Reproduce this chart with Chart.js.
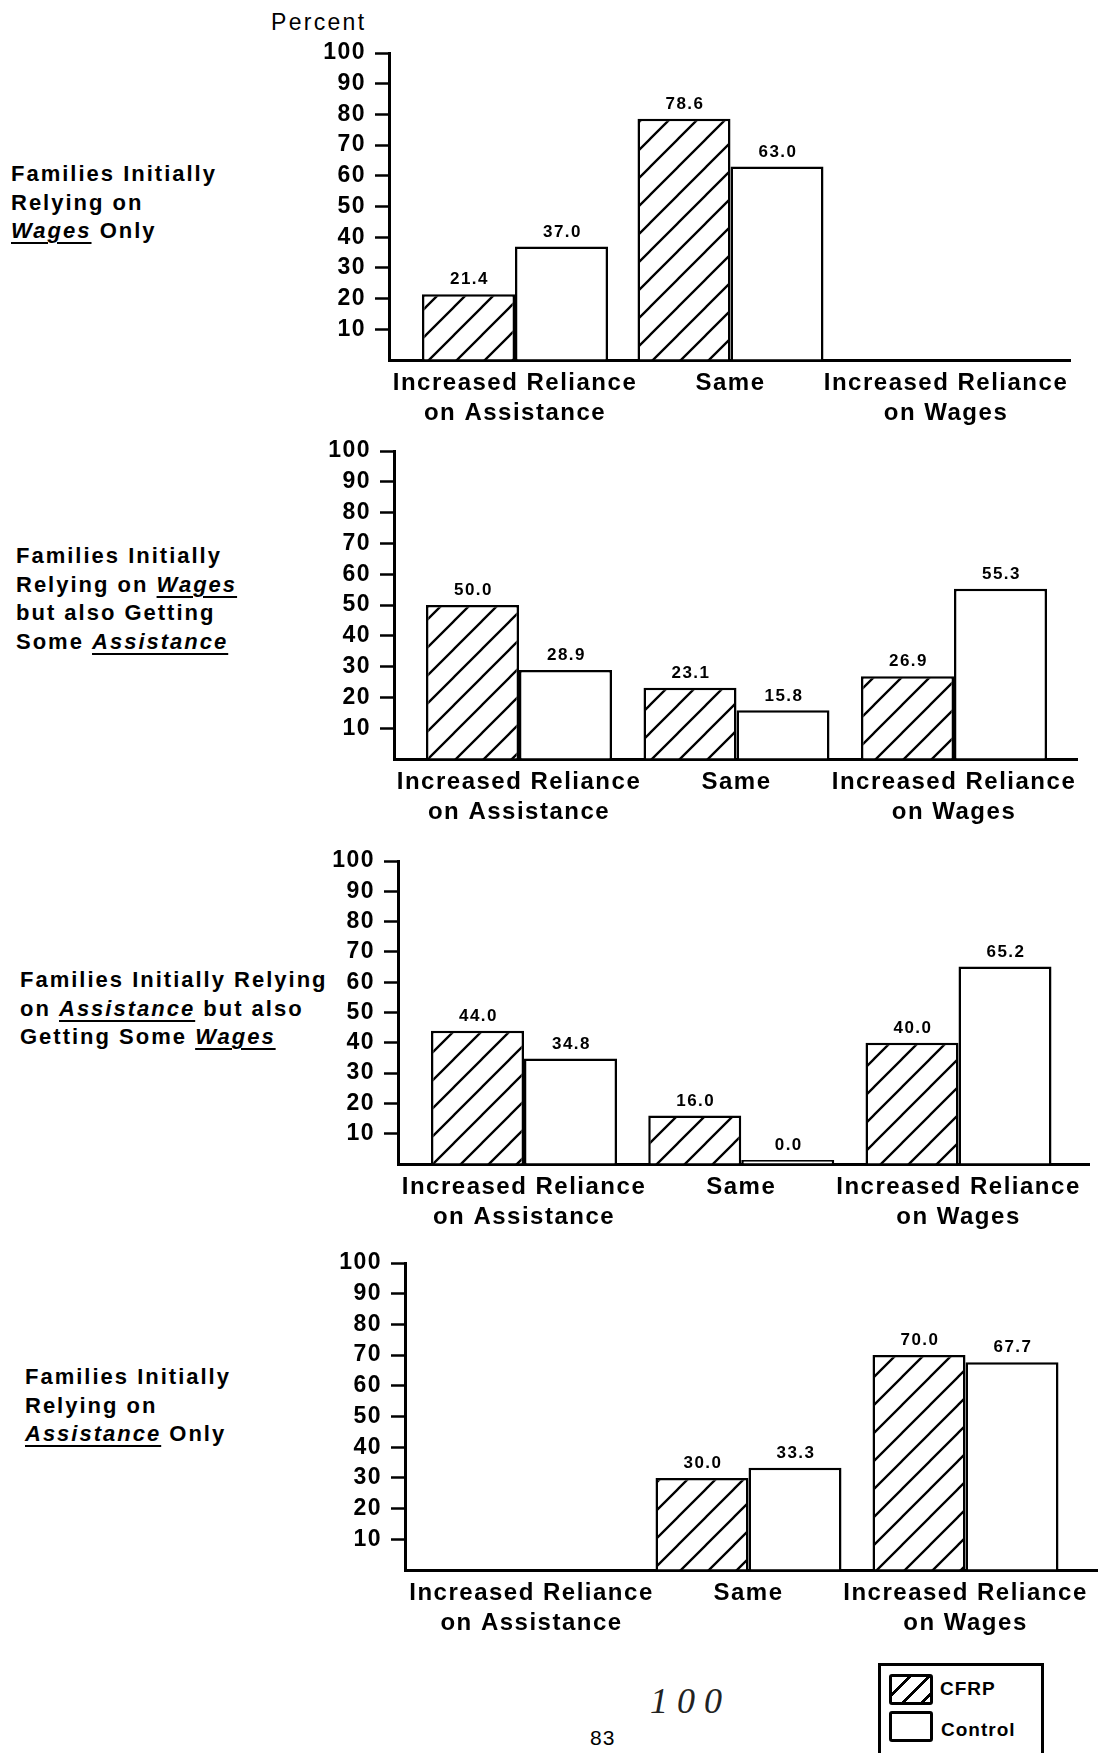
<!DOCTYPE html>
<html>
<head>
<meta charset="utf-8">
<script src="https://cdn.jsdelivr.net/npm/chart.js@4.4.1/dist/chart.umd.min.js"></script>
<style>
  body { margin: 0; width: 1102px; height: 1753px; position: relative; overflow: hidden; background: #fff;
         font-family: 'Liberation Sans', Arial, sans-serif; color: #000; }
  .side { position: absolute; font-size: 22px; font-weight: bold; letter-spacing: 2px; line-height: 28.5px; white-space: nowrap; }
  .side u { font-style: italic; text-decoration-thickness: 2px; text-underline-offset: 4px; }
  canvas { position: absolute; }
  .abs { position: absolute; white-space: nowrap; }
  .patch { position: absolute; width: 38px; height: 25px; border: 3px solid #000; border-radius: 3px; background: #fff; }
</style>
</head>
<body>

<div class="abs" style="left:271px;top:9px;font-size:23px;letter-spacing:2.3px">Percent</div>

<div class="side" style="left:11px;top:160px">Families Initially<br>Relying on<br><u>Wages</u> Only</div>
<div class="side" style="left:16px;top:542px">Families Initially<br>Relying on <u>Wages</u><br>but also Getting<br>Some <u>Assistance</u></div>
<div class="side" style="left:20px;top:966px">Families Initially Relying<br>on <u>Assistance</u> but also<br>Getting Some <u>Wages</u></div>
<div class="side" style="left:25px;top:1363px">Families Initially<br>Relying on<br><u>Assistance</u> Only</div>

<div class="abs" style="left:878px;top:1663px;width:160px;height:110px;border:3px solid #000"></div>
<div class="patch" style="left:889px;top:1674px;background:repeating-linear-gradient(135deg,#fff 0 11px,#000 11px 13.5px)"></div>
<div class="abs" style="left:940px;top:1678px;font-size:19px;font-weight:bold;letter-spacing:1px">CFRP</div>
<div class="patch" style="left:889px;top:1711px"></div>
<div class="abs" style="left:941px;top:1719px;font-size:19px;font-weight:bold;letter-spacing:1px">Control</div>

<div class="abs" style="left:590px;top:1726px;font-size:21px;letter-spacing:1px">83</div>
<div class="abs" style="left:650px;top:1680px;font-size:36px;font-style:italic;font-family:'Liberation Serif',serif;letter-spacing:9px;color:#222">100</div>

<script>
// data
const categories = [['Increased Reliance', 'on Assistance'], 'Same', ['Increased Reliance', 'on Wages']]
const series = ['CFRP', 'Control']

const cfrp1 = [21.4, 78.6, null]
const control1 = [37.0, 63.0, null]
const cfrp2 = [50.0, 23.1, 26.9]
const control2 = [28.9, 15.8, 55.3]
const cfrp3 = [44.0, 16.0, 40.0]
const control3 = [34.8, 0.0, 65.2]
const cfrp4 = [null, 30.0, 70.0]
const control4 = [null, 33.3, 67.7]

const cfrp = [cfrp1, cfrp2, cfrp3, cfrp4]
const control = [control1, control2, control3, control4]

// where each panel sits on the page (pixels)
const panels = [
  {axisX: 389, right: 1070, top: 53, base: 360, c0: 515, s: 215.5},
  {axisX: 394, right: 1077, top: 451, base: 759, c0: 519, s: 217.5},
  {axisX: 398, right: 1089, top: 861, base: 1164, c0: 524, s: 217.25},
  {axisX: 405, right: 1097, top: 1263, base: 1570, c0: 531.5, s: 217}
]

const CANVAS_LEFT = 230
const CANVAS_W = 1102 - CANVAS_LEFT
const PAD_TOP = 26
const X_H = 80
const FONT = "'Liberation Sans', Arial, sans-serif"

Chart.defaults.font.family = FONT
Chart.defaults.color = '#000'

function hatchPattern(ctx) {
  const p = document.createElement('canvas')
  p.width = p.height = 28
  const g = p.getContext('2d')
  g.fillStyle = '#fff'
  g.fillRect(0, 0, 28, 28)
  g.strokeStyle = '#000'
  g.lineWidth = 2.3
  g.beginPath()
  g.moveTo(0, 28); g.lineTo(28, 0)
  g.moveTo(-3, 3); g.lineTo(3, -3)
  g.moveTo(25, 31); g.lineTo(31, 25)
  g.stroke()
  return ctx.createPattern(p, 'repeat')
}

const spacing = {
  id: 'spacing',
  beforeUpdate(c) { c.ctx.letterSpacing = '1.5px' },
  beforeDraw(c) { c.ctx.letterSpacing = '1.5px' }
}

const valueLabels = {
  id: 'valueLabels',
  afterDatasetsDraw(chart) {
    const ctx = chart.ctx
    ctx.save()
    ctx.font = 'bold 17px ' + FONT
    ctx.fillStyle = '#000'
    ctx.textAlign = 'center'
    ctx.textBaseline = 'bottom'
    chart.data.datasets.forEach((ds, di) => {
      chart.getDatasetMeta(di).data.forEach((bar, k) => {
        const v = ds.data[k].y
        if (v === null) return
        ctx.fillText(v.toFixed(1), bar.x + 1, bar.y - 6)
      })
    })
    ctx.restore()
  }
}

const toPoints = arr => arr.map((y, k) => ({x: k, y: y}))

panels.forEach((L, i) => {
  const cv = document.createElement('canvas')
  cv.width = CANVAS_W
  cv.height = PAD_TOP + (L.base - L.top) + X_H
  cv.style.left = CANVAS_LEFT + 'px'
  cv.style.top = (L.top - PAD_TOP) + 'px'
  document.body.appendChild(cv)
  const ctx = cv.getContext('2d')
  const cp = 186 / L.s

  new Chart(ctx, {
    type: 'bar',
    data: {
      datasets: [
        {label: series[0], data: toPoints(cfrp[i]), backgroundColor: hatchPattern(ctx),
         borderColor: '#000', borderWidth: 2.5, minBarLength: 4, categoryPercentage: cp, barPercentage: 1},
        {label: series[1], data: toPoints(control[i]), backgroundColor: '#fff',
         borderColor: '#000', borderWidth: 2.5, minBarLength: 4, categoryPercentage: cp, barPercentage: 1}
      ]
    },
    options: {
      responsive: false,
      animation: false,
      devicePixelRatio: 1,
      layout: {padding: {top: PAD_TOP, right: 1102 - L.right, left: 0, bottom: 0}},
      plugins: {legend: {display: false}, tooltip: {enabled: false}},
      scales: {
        x: {
          type: 'linear',
          offset: false,
          min: (L.axisX - L.c0) / L.s,
          max: (L.right - L.c0) / L.s,
          grid: {display: false, offset: false},
          border: {display: true, color: '#000', width: 3},
          ticks: {
            padding: 0, maxRotation: 0, autoSkip: false,
            font: {size: 24, weight: 'bold', lineHeight: 1.25},
            callback: v => categories[v]
          },
          afterBuildTicks: s => { s.ticks = categories.map((c, k) => ({value: k})) },
          afterFit: s => { s.height = X_H; s.paddingLeft = 0; s.paddingRight = 0 }
        },
        y: {
          min: 0, max: 100,
          ticks: {stepSize: 10, padding: 9, autoSkip: false, font: {size: 23, weight: 'bold'},
                  callback: v => v === 0 ? '' : v},
          grid: {drawOnChartArea: false, tickLength: 14, tickWidth: 2.5,
                 tickColor: c => (c.tick && c.tick.value === 0) ? 'rgba(0,0,0,0)' : '#000'},
          border: {display: true, color: '#000', width: 3},
          afterFit: s => { s.width = L.axisX - CANVAS_LEFT; s.paddingTop = 0; s.paddingBottom = 0 }
        }
      }
    },
    plugins: [spacing, valueLabels]
  })
})
</script>
</body>
</html>
